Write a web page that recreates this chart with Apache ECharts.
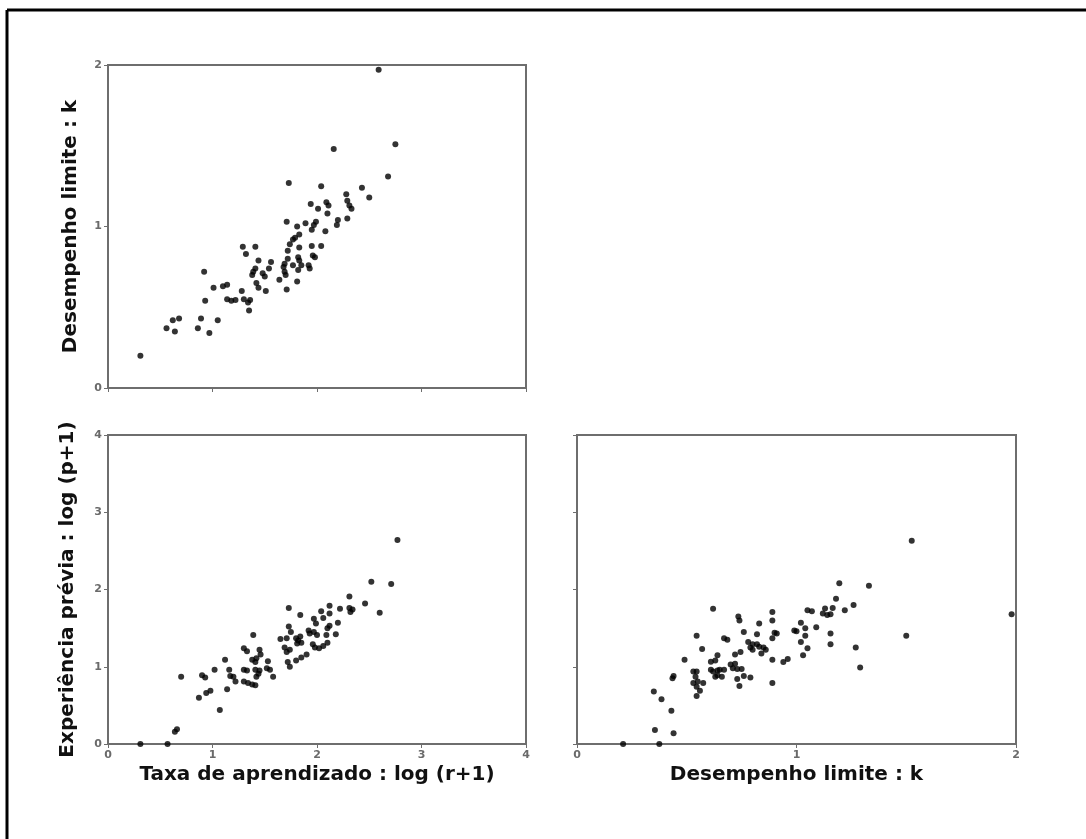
<!DOCTYPE html>
<html>
<head>
<meta charset="utf-8">
<script src="https://cdn.jsdelivr.net/npm/echarts@6/dist/echarts.min.js"></script>
<style>
html,body{margin:0;padding:0;background:#fff;}
#c{width:1086px;height:839px;}
</style>
</head>
<body>
<div id="c"></div>
<script>
// Panel A: x = log(r+1), y = k
const rateVsLimit = [
 [0.31,0.20],[0.56,0.37],[0.62,0.42],[0.68,0.43],[0.64,0.35],[0.86,0.37],[0.89,0.43],[0.97,0.34],[1.05,0.42],
 [0.92,0.72],[0.93,0.54],[1.01,0.62],[1.10,0.63],[1.14,0.64],[1.14,0.55],[1.18,0.54],[1.22,0.545],
 [1.28,0.60],[1.30,0.55],[1.34,0.53],[1.36,0.545],[1.35,0.48],
 [1.29,0.875],[1.41,0.875],[1.32,0.83],
 [1.41,0.74],[1.38,0.70],[1.39,0.72],[1.48,0.71],[1.50,0.69],[1.42,0.65],[1.44,0.62],[1.51,0.60],
 [1.44,0.79],[1.56,0.78],[1.54,0.74],
 [1.64,0.67],[1.68,0.75],[1.69,0.77],[1.72,0.80],[1.72,0.85],[1.69,0.72],[1.70,0.70],[1.71,0.61],
 [1.77,0.76],[1.81,0.66],[1.82,0.73],[1.82,0.81],[1.83,0.79],[1.85,0.76],
 [1.74,0.89],[1.77,0.92],[1.79,0.93],[1.83,0.95],[1.83,0.87],
 [1.71,1.03],[1.81,1.00],[1.89,1.02],
 [1.95,0.88],[2.04,0.88],[1.96,0.82],[1.98,0.81],[1.92,0.76],[1.93,0.74],
 [1.95,0.98],[1.97,1.01],[1.99,1.03],[2.08,0.97],[2.10,1.08],
 [1.94,1.14],[2.01,1.11],[2.09,1.15],[2.11,1.13],
 [2.19,1.01],[2.20,1.04],[2.29,1.05],
 [2.28,1.20],[2.29,1.16],[2.31,1.13],[2.33,1.11],
 [2.43,1.24],[2.50,1.18],[2.68,1.31],[2.75,1.51],[2.16,1.48],[2.04,1.25],[1.73,1.27],[2.59,1.97]
];
// Panel B: x = log(r+1), y = log(p+1)
const rateVsExperience = [
 [0.31,0.00],[0.57,0.00],[0.64,0.16],[0.66,0.19],[0.70,0.87],
 [0.87,0.60],[0.94,0.66],[0.98,0.69],[0.90,0.89],[0.93,0.86],
 [1.02,0.96],[1.07,0.44],[1.12,1.09],[1.14,0.71],
 [1.16,0.96],[1.17,0.88],[1.20,0.87],[1.22,0.81],
 [1.30,1.24],[1.33,1.20],[1.39,1.41],
 [1.30,0.96],[1.33,0.95],[1.30,0.81],[1.34,0.79],[1.38,0.77],[1.41,0.76],
 [1.38,1.09],[1.41,1.06],[1.42,1.11],[1.45,1.22],[1.46,1.16],
 [1.41,0.96],[1.44,0.91],[1.42,0.87],[1.45,0.95],
 [1.53,1.07],[1.52,0.98],[1.55,0.96],[1.58,0.87],
 [1.73,1.76],[1.65,1.36],[1.69,1.25],[1.71,1.19],[1.74,1.22],
 [1.72,1.06],[1.74,1.00],[1.80,1.08],[1.85,1.12],[1.90,1.16],
 [1.73,1.52],[1.75,1.45],[1.71,1.37],
 [1.80,1.37],[1.82,1.34],[1.84,1.39],[1.81,1.30],[1.85,1.31],
 [1.84,1.67],
 [1.92,1.47],[1.93,1.43],[1.97,1.45],[2.00,1.41],
 [1.97,1.62],[1.99,1.56],
 [1.96,1.29],[1.98,1.25],[2.02,1.24],[2.06,1.27],[2.10,1.31],
 [2.09,1.41],
 [2.04,1.72],[2.06,1.63],[2.12,1.79],[2.12,1.69],
 [2.10,1.50],[2.12,1.53],[2.18,1.42],[2.20,1.57],
 [2.22,1.75],[2.31,1.76],[2.32,1.71],[2.34,1.74],
 [2.31,1.91],[2.46,1.82],[2.60,1.70],[2.52,2.10],[2.71,2.07],[2.77,2.64]
];
// Panel C: x = k, y = log(p+1)
const limitVsExperience = [
 [0.21,0.00],[0.375,0.00],[0.355,0.18],[0.44,0.14],[0.35,0.68],[0.385,0.58],[0.43,0.43],[0.44,0.88],[0.435,0.85],
 [0.49,1.09],[0.545,1.40],[0.57,1.23],[0.62,1.75],
 [0.53,0.94],[0.545,0.94],[0.54,0.87],[0.53,0.79],[0.55,0.81],[0.575,0.79],[0.545,0.74],[0.56,0.69],[0.545,0.62],
 [0.61,1.065],[0.63,1.08],[0.64,1.15],
 [0.61,0.96],[0.62,0.94],[0.64,0.95],[0.65,0.96],[0.67,0.96],
 [0.63,0.87],[0.64,0.89],[0.66,0.87],
 [0.67,1.37],[0.685,1.35],
 [0.70,1.03],[0.72,1.04],[0.71,0.98],[0.73,0.97],[0.75,0.97],
 [0.73,0.84],[0.76,0.88],[0.79,0.86],[0.74,0.75],
 [0.735,1.65],[0.74,1.60],[0.76,1.45],
 [0.745,1.19],[0.72,1.16],
 [0.78,1.32],[0.80,1.29],[0.79,1.25],[0.80,1.22],[0.82,1.29],[0.83,1.26],[0.85,1.25],[0.86,1.22],[0.84,1.17],
 [0.83,1.56],[0.82,1.42],
 [0.89,1.71],[0.89,1.60],[0.90,1.44],[0.91,1.43],[0.89,1.37],
 [0.89,1.09],[0.94,1.06],[0.96,1.10],[0.89,0.79],
 [0.99,1.47],[1.00,1.46],[1.02,1.57],[1.04,1.50],[1.04,1.40],[1.02,1.32],[1.05,1.24],[1.03,1.15],
 [1.09,1.51],
 [1.05,1.73],[1.07,1.72],
 [1.12,1.69],[1.14,1.67],[1.155,1.68],[1.13,1.755],[1.165,1.76],
 [1.155,1.43],[1.155,1.29],
 [1.18,1.88],[1.195,2.08],[1.22,1.73],[1.26,1.80],[1.27,1.25],[1.29,0.99],[1.33,2.05],
 [1.50,1.40],[1.525,2.63],[1.98,1.68]
];

const labelRate = 'Taxa de aprendizado : log (r+1)';
const labelLimit = 'Desempenho limite : k';
const labelExperience = 'Experiência prévia : log (p+1)';

const axisGrey = '#6e6e6e';
const titleFont = {fontFamily:'DejaVu Sans', fontWeight:'bold', fontSize:20, color:'#111'};
const tickFont = {fontFamily:'DejaVu Sans', fontWeight:'bold', fontSize:11, color:'#6a6a6a'};

function axisBase(min, max, showLabels){
  return {
    type:'value', min:min, max:max, interval:1,
    axisLine:{show:true, onZero:false, lineStyle:{color:axisGrey, width:2}},
    axisTick:{show:true, length:4, lineStyle:{color:axisGrey, width:1}},
    axisLabel:Object.assign({show:showLabels, margin:6}, tickFont),
    splitLine:{show:false}
  };
}

const chart = echarts.init(document.getElementById('c'), null, {renderer:'canvas'});
const gridStyle = {show:true, borderColor:axisGrey, borderWidth:2, backgroundColor:'#fff'};
chart.setOption({
  backgroundColor:'#fff',
  animation:false,
  graphic:[
    {type:'line', shape:{x1:7, y1:10, x2:1086, y2:10}, style:{stroke:'#000', lineWidth:3}},
    {type:'line', shape:{x1:7, y1:10, x2:7, y2:839}, style:{stroke:'#000', lineWidth:3}}
  ],
  grid:[
    Object.assign({left:108, top:65, width:418, height:323}, gridStyle),
    Object.assign({left:108, top:435, width:418, height:309}, gridStyle),
    Object.assign({left:577, top:435, width:439, height:309}, gridStyle)
  ],
  xAxis:[
    Object.assign(axisBase(0,4,false), {gridIndex:0}),
    Object.assign(axisBase(0,4,true), {gridIndex:1, name:labelRate, nameLocation:'middle', nameGap:21, nameTextStyle:titleFont}),
    Object.assign(axisBase(0,2,true), {gridIndex:2, name:labelLimit, nameLocation:'middle', nameGap:21, nameTextStyle:titleFont})
  ],
  yAxis:[
    Object.assign(axisBase(0,2,true), {gridIndex:0, name:labelLimit, nameLocation:'middle', nameGap:27, nameTextStyle:titleFont}),
    Object.assign(axisBase(0,4,true), {gridIndex:1, name:labelExperience, nameLocation:'middle', nameGap:30, nameTextStyle:titleFont}),
    Object.assign(axisBase(0,4,false), {gridIndex:2})
  ],
  series:[
    {type:'scatter', xAxisIndex:0, yAxisIndex:0, data:rateVsLimit, symbol:'circle', symbolSize:6, itemStyle:{color:'#000'}},
    {type:'scatter', xAxisIndex:1, yAxisIndex:1, data:rateVsExperience, symbol:'circle', symbolSize:6, itemStyle:{color:'#000'}},
    {type:'scatter', xAxisIndex:2, yAxisIndex:2, data:limitVsExperience, symbol:'circle', symbolSize:6, itemStyle:{color:'#000'}}
  ]
});
</script>
</body>
</html>
